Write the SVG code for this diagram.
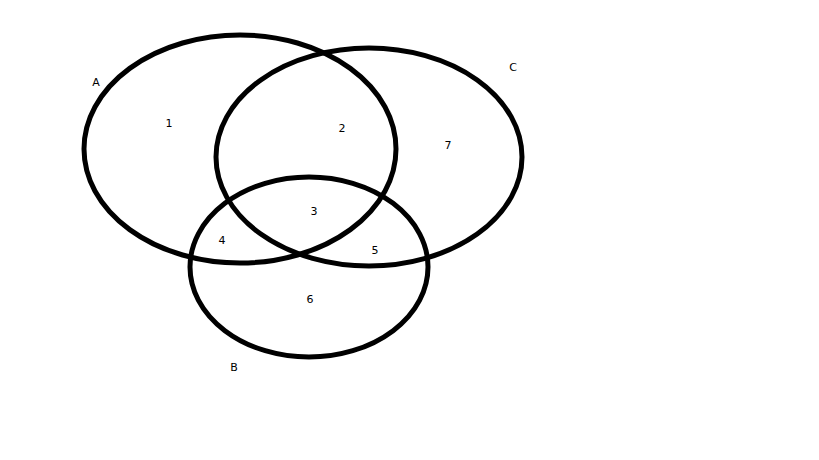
<svg xmlns="http://www.w3.org/2000/svg" width="819" height="460" viewBox="0 0 819 460">
<style>
.set{fill:none;stroke:#000;stroke-width:5}
.t{font-family:"DejaVu Sans",sans-serif;font-size:11px;fill:#000;text-anchor:middle}
</style>
<rect width="819" height="460" fill="#fff"/>
<g id="setA"><ellipse class="set" cx="240" cy="149" rx="156" ry="114"/><text class="t" x="96" y="86">A</text></g>
<g id="setC"><ellipse class="set" cx="369" cy="157" rx="153" ry="109"/><text class="t" x="513" y="71">C</text></g>
<g id="setB"><ellipse class="set" cx="309" cy="267" rx="119" ry="90"/><text class="t" x="234" y="371">B</text></g>
<g id="regions">
<text class="t" x="169" y="127">1</text>
<text class="t" x="342" y="132">2</text>
<text class="t" x="314" y="215">3</text>
<text class="t" x="222" y="244">4</text>
<text class="t" x="375" y="254">5</text>
<text class="t" x="310" y="303">6</text>
<text class="t" x="448" y="149">7</text>
</g>
<g id="connectors"></g>
</svg>
